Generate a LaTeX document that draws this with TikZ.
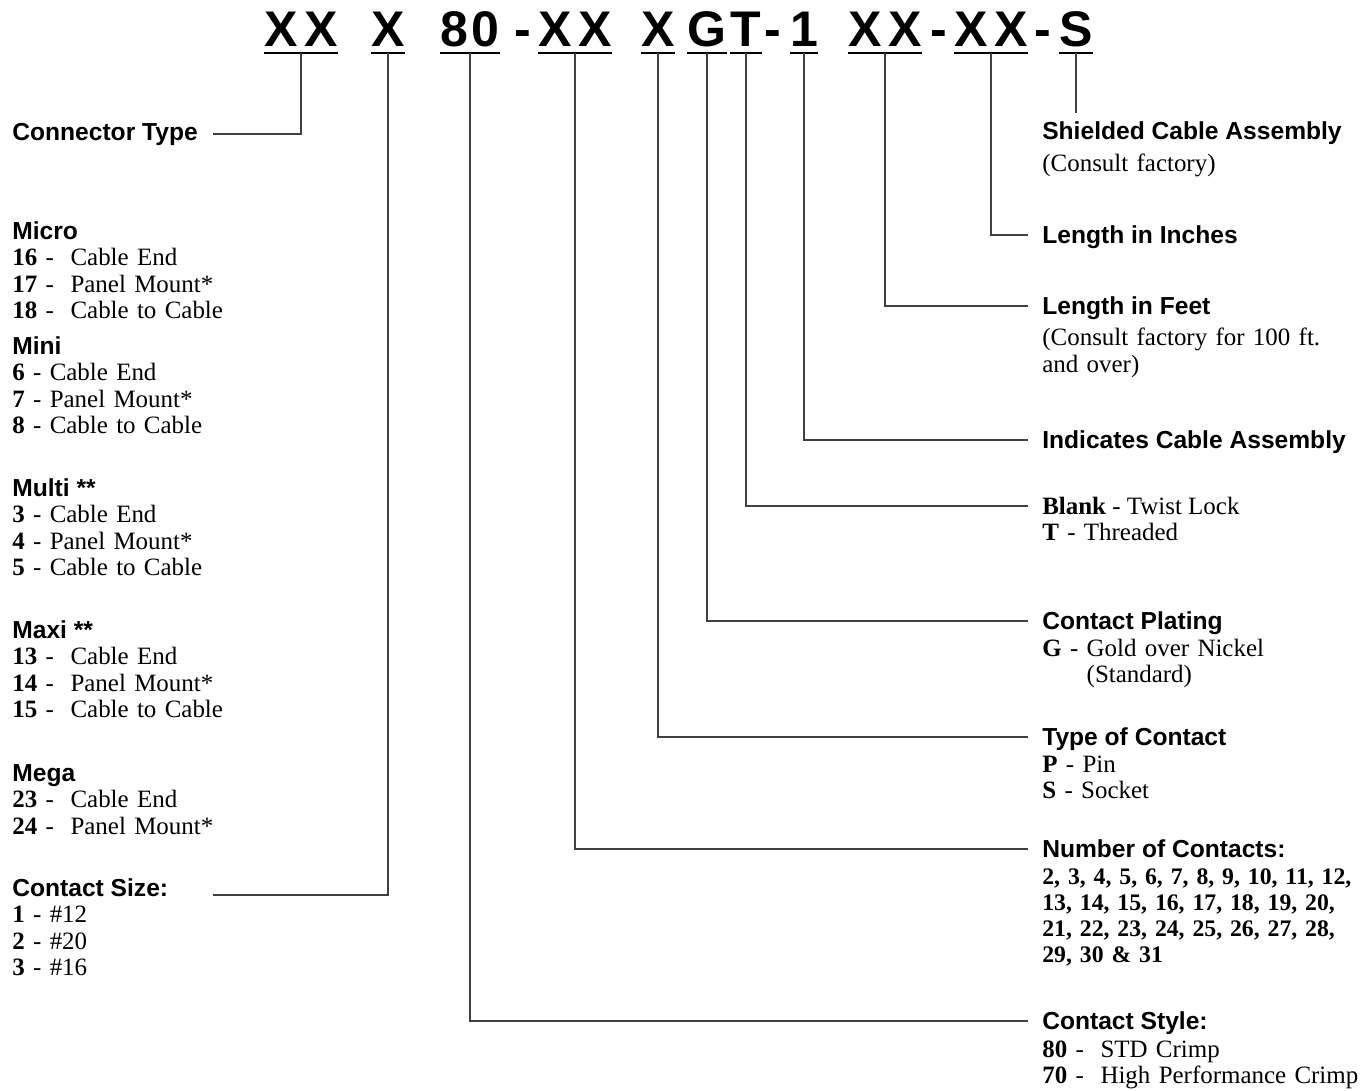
\documentclass[tikz,border=0pt]{standalone}
\usepackage{fontspec}
\setmainfont{Liberation Serif}
\newfontfamily\sansfam{Liberation Sans}
\usetikzlibrary{calc}

\newcommand{\headfont}{\sansfam\bfseries\fontsize{14}{16}\selectfont}
\newcommand{\descfont}{\fontsize{14.2}{15.1}\selectfont}
\newcommand{\listfont}{\bfseries\fontsize{13.5}{14.7}\selectfont}
\newcommand{\codefont}{\sansfam\bfseries\fontsize{28.5}{30}\selectfont}
\newcommand{\twox}{X\kern4pt X}

\tikzset{
  code/.style={font=\codefont, inner xsep=0pt, inner ysep=3.2pt, text depth=0pt, anchor=base},
  uline/.style={draw=black, line width=0.8pt},
  lead/.style={draw=black!75, line width=0.8pt},
  head/.style={font=\headfont, inner sep=0pt, text height=10pt, text depth=0pt, anchor=west},
  rhead/.style={head, inner xsep=7.94pt},
  desc/.style={font=\descfont, inner sep=0pt, text width=6.4cm, align=left, anchor=base west}
}

\begin{document}
\begin{tikzpicture}[x=0.02cm, y=-0.02cm]
\useasboundingbox (0,0) rectangle (1366,1091);

% The part number
\node[code] (gType) at (301,47) {\twox};
\node[code] (gSize) at (388,47) {X};
\node[code] (gStyle) at (470,47) {8\kern2pt 0};
\node[code] (d1) at (523,47) {-};
\node[code] (gCount) at (575,47) {\twox};
\node[code] (gContact) at (658,47) {X};
\node[code] (gPlate) at (707,47) {G};
\node[code] (gLock) at (746,47) {T};
\node[code] (d2) at (773,47) {-};
\node[code] (gAsm) at (804,47) {1};
\node[code] (gFeet) at (885,47) {\twox};
\node[code] (d3) at (939,47) {-};
\node[code] (gInch) at (991,47) {\twox};
\node[code] (d4) at (1043,47) {-};
\node[code] (gShield) at (1076,47) {S};

% Underline each field
\foreach \g in {gType,gSize,gStyle,gCount,gContact,gPlate,gLock,gAsm,gFeet,gInch,gShield}
  \draw[uline] (\g.south west) -- (\g.south east);

% Left column
\node[head] (ctype) at (12,132) {Connector Type};

\node[head] (micro) at (12,231) {Micro};
\node[desc] (microList) at ($(micro.base west)+(0,26)$) {\textbf{16} - \ Cable End\\ \textbf{17} - \ Panel Mount*\\ \textbf{18} - \ Cable to Cable};

\node[head] (mini) at (12,346) {Mini};
\node[desc] (miniList) at ($(mini.base west)+(0,26)$) {\textbf{6} - Cable End\\ \textbf{7} - Panel Mount*\\ \textbf{8} - Cable to Cable};

\node[head] (multi) at (12,488) {Multi **};
\node[desc] (multiList) at ($(multi.base west)+(0,26)$) {\textbf{3} - Cable End\\ \textbf{4} - Panel Mount*\\ \textbf{5} - Cable to Cable};

\node[head] (maxi) at (12,630) {Maxi **};
\node[desc] (maxiList) at ($(maxi.base west)+(0,26)$) {\textbf{13} - \ Cable End\\ \textbf{14} - \ Panel Mount*\\ \textbf{15} - \ Cable to Cable};

\node[head] (mega) at (12,773) {Mega};
\node[desc] (megaList) at ($(mega.base west)+(0,26)$) {\textbf{23} - \ Cable End\\ \textbf{24} - \ Panel Mount*};

\node[head] (size) at (12,888) {Contact Size:};
\node[desc] (sizeList) at ($(size.base west)+(0,26)$) {\textbf{1} - \#12\\ \textbf{2} - \#20\\ \textbf{3} - \#16};

% Right column
\node[rhead] (shield) at (1028,131) {Shielded Cable Assembly};
\node[desc] (shieldNote) at ($(shield.base west)+(14,32)$) {(Consult factory)};

\node[rhead] (inch) at (1028,235) {Length in Inches};

\node[rhead] (feet) at (1028,306) {Length in Feet};
\node[desc] (feetNote) at ($(feet.base west)+(14,31)$) {(Consult factory for 100 ft.\\ and over)};

\node[rhead] (asm) at (1028,440) {Indicates Cable Assembly};

\node[rhead, font=\descfont, text height=9.4pt] (lock) at (1028,506) {\textbf{Blank} - Twist Lock};
\node[desc] (lockList) at ($(lock.base west)+(14,26.6)$) {\textbf{T} - Threaded};

\node[rhead] (plate) at (1028,621) {Contact Plating};
\node[desc] (plateList) at ($(plate.base west)+(14,26.5)$) {\textbf{G} - Gold over Nickel\\ \phantom{\textbf{G} - }(Standard)};

\node[rhead] (contact) at (1028,737) {Type of Contact};
\node[desc] (contactList) at ($(contact.base west)+(14,26.5)$) {\textbf{P} - Pin\\ \textbf{S} - Socket};

\node[rhead] (count) at (1028,849) {Number of Contacts:};
\node[desc, font=\listfont] (countList) at ($(count.base west)+(14,27)$) {2, 3, 4, 5, 6, 7, 8, 9, 10, 11, 12,\\ 13, 14, 15, 16, 17, 18, 19, 20,\\ 21, 22, 23, 24, 25, 26, 27, 28,\\ 29, 30 \& 31};

\node[rhead] (style) at (1028,1021) {Contact Style:};
\node[desc] (styleList) at ($(style.base west)+(14,27.5)$) {\textbf{80} - \ STD Crimp\\ \textbf{70} - \ High Performance Crimp};

% Leader lines
\coordinate (typeEnd) at (213,134);
\coordinate (sizeEnd) at (213,895);
\coordinate (shieldEnd) at (1076,113);
\draw[lead] (gType.south) |- (typeEnd);
\draw[lead] (gSize.south) |- (sizeEnd);
\draw[lead] (gStyle.south) |- (style.west);
\draw[lead] (gCount.south) |- (count.west);
\draw[lead] (gContact.south) |- (contact.west);
\draw[lead] (gPlate.south) |- (plate.west);
\draw[lead] (gLock.south) |- (lock.west);
\draw[lead] (gAsm.south) |- (asm.west);
\draw[lead] (gFeet.south) |- (feet.west);
\draw[lead] (gInch.south) |- (inch.west);
\draw[lead] (gShield.south) -- (shieldEnd);
\end{tikzpicture}
\end{document}
